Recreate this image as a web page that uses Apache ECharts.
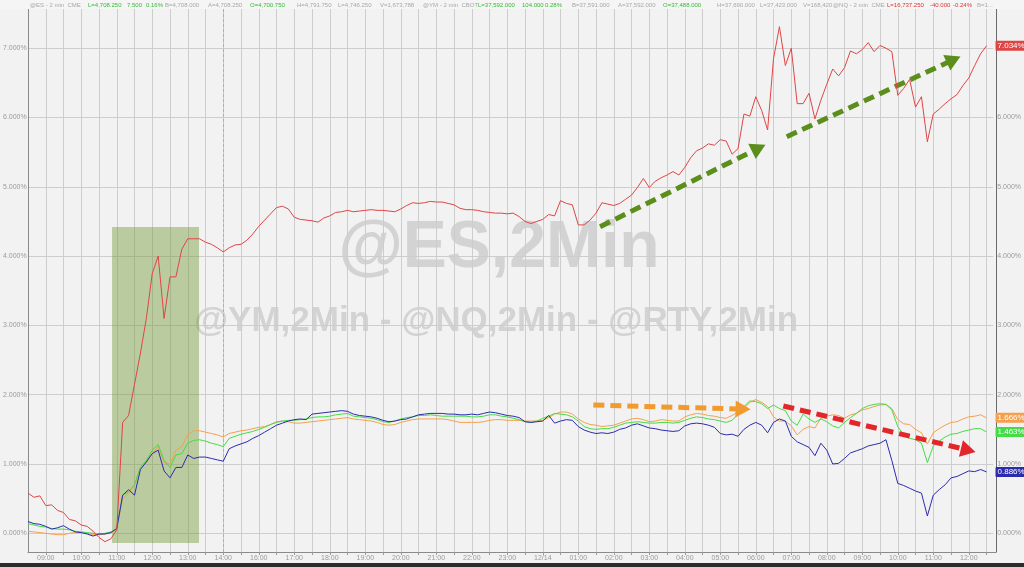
<!DOCTYPE html>
<html><head><meta charset="utf-8">
<script src="https://cdn.jsdelivr.net/npm/echarts@6/dist/echarts.min.js"></script>
<style>html,body{margin:0;padding:0;background:#f2f2f2}#c{width:1024px;height:567px}</style>
</head><body><div id="c"></div>
<script>
// x axis: visual minutes from 12/13 09:00 (trading-time scale, break skipped), hourly tick labels
const hourLabels = ['09:00','10:00','11:00','12:00','13:00','14:00','16:00','17:00','18:00','19:00','20:00','21:00','22:00','23:00','12/14','01:00','02:00','03:00','04:00','05:00','06:00','07:00','08:00','09:00','10:00','11:00','12:00'];
const yTicks = [0,1,2,3,4,5,6,7];

// sample times every 10 visual minutes, 08:30 -> 12:30 next day
const times = [];
for (let m = -30; m <= 1590; m += 10) times.push(m);

// % change. rows: 3 pre-09:00 samples, then one row per hour, then last 4
const rty = [0.58,0.52,0.54,
 0.40,0.41,0.33,0.30,0.20,0.18,
 0.12,0.10,0.03,-0.06,-0.12,-0.08,
 0.05,1.60,1.70,2.15,2.60,3.10,
 3.75,4.00,3.10,3.70,3.70,4.10,
 4.25,4.25,4.25,4.20,4.17,4.12,
 4.06,4.12,4.16,4.17,4.23,4.32,
 4.43,4.52,4.61,4.70,4.72,4.68,
 4.56,4.53,4.52,4.51,4.49,4.55,
 4.58,4.63,4.64,4.66,4.64,4.65,
 4.66,4.67,4.66,4.66,4.65,4.64,
 4.68,4.73,4.77,4.76,4.77,4.79,
 4.78,4.78,4.76,4.74,4.69,4.67,
 4.67,4.66,4.64,4.63,4.62,4.62,
 4.61,4.62,4.57,4.50,4.47,4.50,
 4.53,4.60,4.58,4.80,4.76,4.74,
 4.45,4.45,4.52,4.62,4.77,4.75,
 4.73,4.76,4.82,4.88,4.99,5.12,
 4.99,5.08,5.13,5.17,5.22,5.17,
 5.28,5.42,5.52,5.56,5.62,5.60,
 5.68,5.66,5.47,5.55,6.05,6.02,
 6.30,6.10,5.82,6.85,7.31,6.75,
 7.00,6.20,6.20,6.35,5.98,6.25,
 6.48,6.70,6.60,6.72,6.96,6.92,
 6.98,7.08,6.95,7.04,7.00,6.95,
 6.32,6.42,6.55,6.15,6.30,5.65,
 6.05,6.12,6.20,6.27,6.33,6.46,
 6.57,6.75,6.92,7.034];

const nq = [0.17,0.14,0.13,
 0.10,0.06,0.08,0.11,0.06,0.02,
 0.01,-0.01,-0.04,-0.01,-0.01,0.01,
 0.07,0.55,0.63,0.55,0.92,1.03,
 1.15,1.20,0.90,0.80,0.95,0.95,
 1.13,1.08,1.10,1.10,1.08,1.06,
 1.04,1.22,1.26,1.29,1.32,1.37,
 1.41,1.46,1.51,1.56,1.59,1.62,
 1.64,1.65,1.64,1.72,1.73,1.74,
 1.75,1.76,1.77,1.76,1.72,1.70,
 1.69,1.68,1.66,1.63,1.61,1.62,
 1.64,1.65,1.68,1.71,1.72,1.73,
 1.73,1.73,1.72,1.72,1.71,1.71,
 1.72,1.71,1.73,1.75,1.74,1.72,
 1.70,1.69,1.67,1.61,1.60,1.61,
 1.62,1.70,1.59,1.62,1.64,1.63,
 1.54,1.49,1.46,1.44,1.45,1.44,
 1.46,1.50,1.52,1.56,1.58,1.55,
 1.52,1.51,1.49,1.48,1.47,1.48,
 1.55,1.58,1.59,1.58,1.56,1.53,
 1.44,1.42,1.43,1.40,1.50,1.56,
 1.60,1.56,1.45,1.60,1.65,1.62,
 1.40,1.32,1.28,1.24,1.12,1.30,
 1.20,1.00,1.01,1.08,1.16,1.19,
 1.22,1.26,1.28,1.30,1.35,1.05,
 0.72,0.69,0.65,0.61,0.58,0.25,
 0.55,0.63,0.70,0.80,0.82,0.86,
 0.90,0.89,0.92,0.886];

const es = [0.14,0.12,0.10,
 0.09,0.07,0.06,0.06,0.05,0.03,
 0.02,0.01,0.00,-0.01,0.00,0.02,
 0.06,0.55,0.60,0.70,0.95,1.05,
 1.20,1.28,1.05,0.95,1.13,1.15,
 1.30,1.34,1.35,1.33,1.30,1.28,
 1.25,1.37,1.40,1.43,1.45,1.47,
 1.50,1.53,1.57,1.60,1.62,1.63,
 1.63,1.64,1.65,1.67,1.68,1.68,
 1.69,1.71,1.72,1.73,1.69,1.68,
 1.67,1.66,1.64,1.61,1.60,1.62,
 1.65,1.67,1.68,1.70,1.70,1.71,
 1.70,1.69,1.69,1.69,1.69,1.69,
 1.68,1.68,1.69,1.71,1.71,1.69,
 1.68,1.66,1.64,1.61,1.60,1.62,
 1.66,1.69,1.73,1.72,1.71,1.68,
 1.62,1.54,1.51,1.50,1.51,1.51,
 1.53,1.56,1.59,1.60,1.61,1.60,
 1.59,1.59,1.60,1.60,1.59,1.60,
 1.63,1.66,1.68,1.67,1.65,1.64,
 1.62,1.60,1.63,1.72,1.83,1.91,
 1.90,1.87,1.80,1.85,1.80,1.77,
 1.62,1.56,1.72,1.65,1.60,1.65,
 1.61,1.55,1.52,1.60,1.67,1.73,
 1.80,1.84,1.86,1.87,1.86,1.78,
 1.54,1.42,1.37,1.35,1.30,1.02,
 1.26,1.33,1.39,1.43,1.44,1.47,
 1.49,1.51,1.51,1.463];

const ym = [0.03,0.02,0.01,
 0.00,-0.01,-0.02,-0.02,0.00,0.01,
 0.01,0.00,-0.02,-0.02,-0.01,0.01,
 0.05,0.50,0.58,0.70,0.95,1.02,
 1.15,1.25,1.02,1.00,1.20,1.25,
 1.42,1.48,1.48,1.46,1.44,1.42,
 1.39,1.44,1.46,1.48,1.49,1.51,
 1.53,1.54,1.57,1.61,1.62,1.61,
 1.59,1.59,1.60,1.61,1.62,1.63,
 1.64,1.65,1.66,1.67,1.65,1.64,
 1.63,1.62,1.60,1.57,1.56,1.57,
 1.60,1.62,1.64,1.65,1.65,1.65,
 1.65,1.65,1.64,1.62,1.60,1.60,
 1.60,1.60,1.61,1.63,1.64,1.64,
 1.63,1.63,1.63,1.62,1.62,1.62,
 1.63,1.67,1.72,1.75,1.75,1.72,
 1.65,1.60,1.57,1.56,1.54,1.55,
 1.56,1.59,1.62,1.65,1.66,1.64,
 1.61,1.62,1.64,1.63,1.62,1.62,
 1.68,1.71,1.73,1.72,1.70,1.69,
 1.67,1.66,1.70,1.75,1.80,1.89,
 1.93,1.89,1.83,1.68,1.62,1.62,
 1.55,1.42,1.50,1.54,1.52,1.66,
 1.69,1.71,1.70,1.66,1.71,1.73,
 1.78,1.80,1.83,1.85,1.86,1.80,
 1.64,1.58,1.57,1.50,1.45,1.29,
 1.45,1.51,1.56,1.60,1.61,1.65,
 1.68,1.69,1.71,1.666];

// annotations (data coordinates: visual minutes, %)
const shadeBox = {x0: 112, x1: 259, y0: -0.14, y1: 4.42};
const arrows = [
  {from:[936.9,4.424], to:[1205.0,5.558], color:'#5c8e1c'},
  {from:[1252.4,5.723], to:[1534.4,6.835], color:'#5c8e1c'},
  {from:[925.5,1.851], to:[1178.5,1.792], color:'#f39a2e'},
  {from:[1246.6,1.837], to:[1559.1,1.200], color:'#e3262a'}
];
const sessionBreak = 300;

const headerTokens = [
 [30,'@ES - 2 min  CME','#a8a8a8'],[88,'L=4,708.250','#33bb33'],[127,'7.500','#33bb33'],[146,'0.16%','#33bb33'],
 [165,'B=4,708.000','#a8a8a8'],[208,'A=4,708.250','#a8a8a8'],[250,'O=4,700.750','#33bb33'],[297,'H=4,791.750','#a8a8a8'],
 [338,'L=4,746.250','#a8a8a8'],[380,'V=1,673,788','#a8a8a8'],[423,'@YM - 2 min  CBOT','#a8a8a8'],[478,'L=37,592.000','#33bb33'],
 [522,'104.000','#33bb33'],[545,'0.28%','#33bb33'],[572,'B=37,591.000','#a8a8a8'],[618,'A=37,592.000','#a8a8a8'],
 [663,'O=37,488.000','#33bb33'],[717,'H=37,690.000','#a8a8a8'],[760,'L=37,423.000','#a8a8a8'],[803,'V=168,420','#a8a8a8'],
 [833,'@NQ - 2 min  CME','#a8a8a8'],[887,'L=16,737.250','#e03030'],[930,'-40.000','#e03030'],[953,'-0.24%','#e03030'],[977,'B=1...','#a8a8a8']
];

function pairs(vals){ return vals.map((v,i)=>[times[i], v]); }

const chart = echarts.init(document.getElementById('c'), null, {renderer:'canvas'});
const FONT = 'Liberation Sans, Arial, sans-serif';
const pctFmt = v => v.toFixed(3) + '%';

function lineSeries(name, vals, color, z) {
  return {
    name, type:'line', xAxisIndex:0, yAxisIndex:0, data:pairs(vals), showSymbol:false, z,
    lineStyle:{color, width:1}, itemStyle:{color}, silent:true,
    endLabel:{show:true, distance:9, formatter:p=>pctFmt(p.value[1]), color:'#fff', backgroundColor:color,
      fontSize:8, fontFamily:FONT, padding:[1,2,1,2], borderRadius:1}
  };
}

// data grid spans y 0..552 px; value scale: 0% at 533.3px, 69.3px per 1%
const Y_MIN = -0.2698, Y_MAX = 7.6955;

const option = {
  animation:false,
  backgroundColor:'#f2f2f2',
  textStyle:{fontFamily:FONT},
  grid:[
    {left:28, right:28, top:0, bottom:15},
    {left:28, right:28, top:48.2, bottom:33.7}
  ],
  xAxis:[
    {gridIndex:0, type:'value', min:-30, max:1606, interval:30,
      axisLine:{show:true, onZero:false, lineStyle:{color:'#8a8a8a'}},
      axisTick:{show:true, length:3, lineStyle:{color:'#9a9a9a'}},
      splitLine:{show:true, lineStyle:{color:'#cdcdcd', width:1}},
      axisLabel:{show:true, fontSize:7, color:'#9a9a9a', margin:3, showMaxLabel:false, showMinLabel:false,
        formatter:v => (v>=0 && v%60===0 && v/60<hourLabels.length) ? hourLabels[v/60] : ''}},
    {gridIndex:1, type:'value', min:-30, max:1606, show:false}
  ],
  yAxis:[
    {gridIndex:0, type:'value', position:'left', min:Y_MIN, max:Y_MAX, axisLabel:{show:false}, splitLine:{show:false},
      axisTick:{show:false}, axisLine:{show:true, onZero:false, lineStyle:{color:'#8a8a8a'}}},
    {gridIndex:0, type:'value', position:'right', min:Y_MIN, max:Y_MAX, axisLabel:{show:false}, splitLine:{show:false},
      axisTick:{show:false}, axisLine:{show:true, onZero:false, lineStyle:{color:'#6a6a6a'}}},
    {gridIndex:1, type:'value', position:'left', min:0, max:7, interval:1,
      axisLine:{show:false}, axisTick:{show:false},
      splitLine:{show:true, lineStyle:{color:'#cdcdcd'}},
      axisLabel:{fontSize:7, color:'#9a9a9a', margin:2, formatter:v => pctFmt(v)}},
    {gridIndex:1, type:'value', position:'right', min:0, max:7, interval:1,
      axisLine:{show:false}, axisTick:{show:false}, splitLine:{show:false},
      axisLabel:{fontSize:7, color:'#9a9a9a', margin:4, formatter:v => pctFmt(v)}}
  ],
  series:[
    lineSeries('@YM', ym, '#f5a04e', 3),
    lineSeries('@ES', es, '#45dd45', 4),
    lineSeries('@NQ', nq, '#2b2bb0', 5),
    lineSeries('@RTY', rty, '#e04545', 6),
    {
      name:'annot', type:'line', xAxisIndex:0, yAxisIndex:0, data:[], z:10, silent:true,
      markArea:{silent:true, itemStyle:{color:'rgba(112,150,48,0.42)'},
        data:[[{coord:[shadeBox.x0, shadeBox.y1]},{coord:[shadeBox.x1, shadeBox.y0]}]]},
      markLine:{silent:true, symbol:['none','triangle'], symbolSize:[17,15], label:{show:false},
        emphasis:{disabled:true},
        data: arrows.map(a => [
          {coord:a.from, lineStyle:{color:a.color, width:5, type:[11,6]}, itemStyle:{color:a.color}},
          {coord:a.to}
        ])}
    },
    {
      name:'break', type:'line', xAxisIndex:0, yAxisIndex:0, data:[], z:1, silent:true,
      markLine:{silent:true, symbol:['none','none'], label:{show:false},
        lineStyle:{color:'#b0b0b0', width:1, type:[3,2]},
        data:[{xAxis:sessionBreak}]}
    }
  ],
  graphic:[
    {type:'text', z:-1, style:{text:'@ES,2Min', x:499, y:282, fill:'#d3d3d3',
      font:'bold 66px Liberation Sans, Arial, sans-serif', textAlign:'center', textVerticalAlign:'bottom'}},
    {type:'text', z:-1, style:{text:'@YM,2Min - @NQ,2Min - @RTY,2Min', x:496, y:339, fill:'#d3d3d3',
      font:'bold 35px Liberation Sans, Arial, sans-serif', textAlign:'center', textVerticalAlign:'bottom'}},
    {type:'rect', z:50, shape:{x:0, y:0, width:1024, height:9}, style:{fill:'#f5f5f5'}},
    {type:'rect', z:50, shape:{x:0, y:563, width:1024, height:4}, style:{fill:'#2c2c2c'}},
    ...headerTokens.map(t => ({type:'text', z:51, style:{text:t[1], x:t[0], y:5, fill:t[2],
      font:'6px Liberation Sans, Arial, sans-serif', textVerticalAlign:'middle'}}))
  ]
};
chart.setOption(option);
</script></body></html>
